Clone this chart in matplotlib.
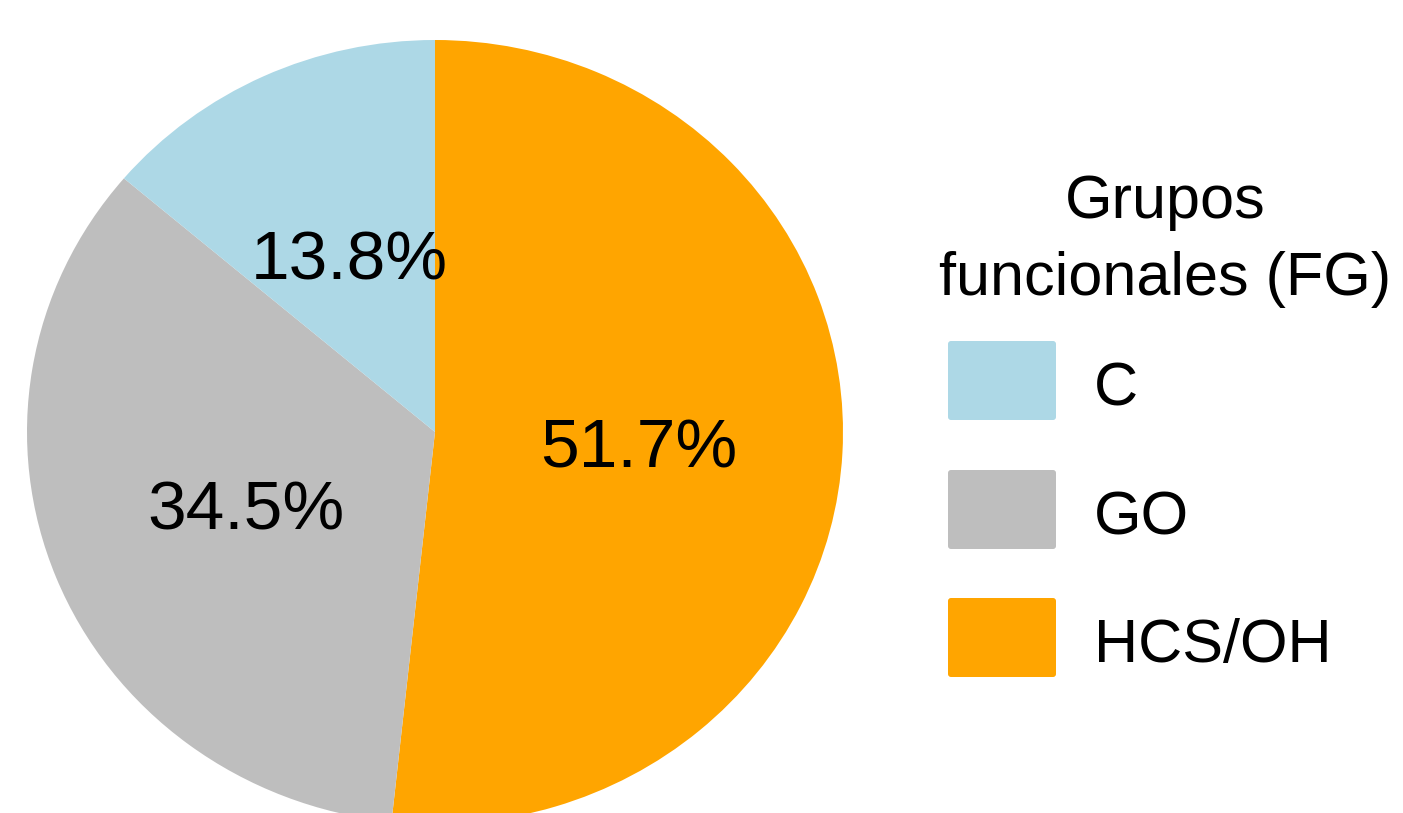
import matplotlib.pyplot as plt
from matplotlib.patches import FancyBboxPatch

plt.rcParams['font.family'] = ['Liberation Sans', 'DejaVu Sans']

# share of each functional group (%), drawn clockwise from 12 o'clock
groups = ['HCS/OH', 'GO', 'C']
shares = [51.7, 34.5, 13.8]
colors = ['#FFA500', '#BEBEBE', '#ADD8E6']

legend_title = ['Grupos', 'funcionales (FG)']
legend_order = ['C', 'GO', 'HCS/OH']

W, H = 1403, 813
fig = plt.figure(figsize=(W / 100, H / 100), dpi=100)

# pie axes, limits chosen so the disc sits at the left of the canvas
ax = fig.add_axes([0, 0, 1, 1])
cx, cy, rx, ry = 435, 432, 408, 392
wedges, texts, autotexts = ax.pie(
    shares, colors=colors, startangle=90, counterclock=False,
    autopct='%.1f%%', pctdistance=0.5,
    wedgeprops=dict(linewidth=0),
    textprops=dict(fontsize=50, color='black'))
for t in autotexts:
    t.set_va('center_baseline')
ax.set_aspect('auto')
ax.set_xlim(-cx / rx, (W - cx) / rx)
ax.set_ylim(-(H - cy) / ry, cy / ry)
ax.axis('off')

# legend drawn in pixel coordinates on an overlay
lg = fig.add_axes([0, 0, 1, 1])
lg.set_xlim(0, W)
lg.set_ylim(H, 0)
lg.axis('off')

for line, base in zip(legend_title, [218, 295]):
    lg.text(1165, base, line, fontsize=44, ha='center', va='baseline')

key_tops = [340, 469, 597]
color_of = dict(zip(groups, colors))
for name, top in zip(legend_order, key_tops):
    lg.add_patch(FancyBboxPatch((948, top + 1), 108, 79,
                                boxstyle='round,pad=0,rounding_size=3',
                                facecolor=color_of[name], edgecolor='none'))
    lg.text(1094, top + 43, name, fontsize=44, ha='left', va='center_baseline')

fig.savefig('out.png', dpi=100)
